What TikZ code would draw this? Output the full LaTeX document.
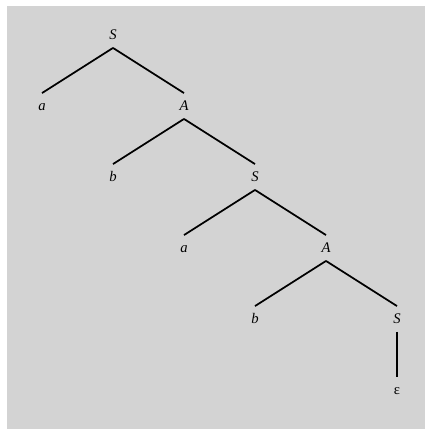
\documentclass[tikz,border=0pt]{standalone}
\usepackage{fontspec}
\setmainfont{Liberation Serif}
\usetikzlibrary{positioning}
\definecolor{bggray}{RGB}{211,211,211}

\begin{document}
\begin{tikzpicture}[
      level distance=53.25pt,
      sibling distance=106.5pt,
      edge from parent/.style={draw, line width=1.3pt},
      edge from parent path={(\tikzparentnode.south) -- (\tikzchildnode.north)},
      sym/.style={
          rectangle, inner sep=0pt,
          font=\fontsize{11}{13}\selectfont\itshape,
          text height=7pt, text depth=0pt,
          minimum height=19pt   % gap between label and edge
        },
    ]
    % page and grey field
    \useasboundingbox (0,0) rectangle (318.75pt,-321.75pt);
    \fill[bggray] (5.25pt,-4.5pt) rectangle (318.75pt,-321.75pt);

    \node[sym] (s1) at (84.75pt,-26.25pt) {S}
    child { node[sym] (a1) {a} }
    child { node[sym] (A1) {A}
        child { node[sym] (b1) {b} }
        child { node[sym] (s2) {S}
            child { node[sym] (a2) {a} }
            child { node[sym] (A2) {A}
                child { node[sym] (b2) {b} }
                child { node[sym] (s3) {S}
                    child { node[sym] (eps) {\upshape ε} }
                  }
              }
          }
      };
  \end{tikzpicture}
\end{document}
